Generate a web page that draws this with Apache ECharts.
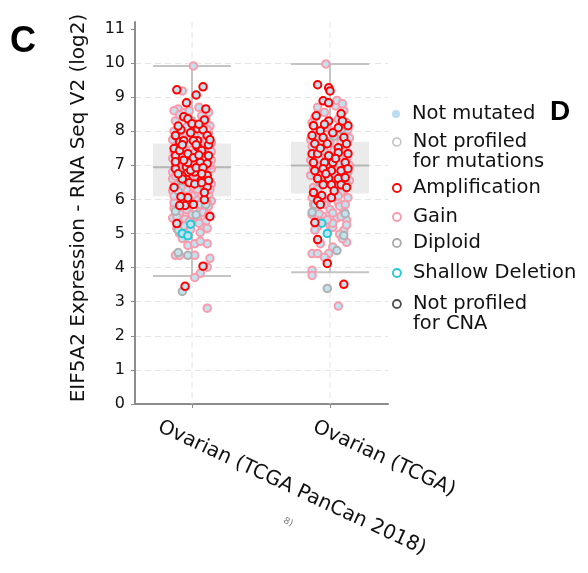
<!DOCTYPE html>
<html>
<head>
<meta charset="utf-8">
<script src="https://cdn.jsdelivr.net/npm/echarts@6/dist/echarts.min.js"></script>
<style>
html,body{margin:0;padding:0;background:#fff;}
#chart{width:588px;height:573px;}
</style>
</head>
<body>
<div id="chart"></div>
<script>
// ---------- data ----------
var categories = ['Ovarian (TCGA PanCan 2018)', 'Ovarian (TCGA)'];
var yTicks = [0,1,2,3,4,5,6,7,8,9,10,11];
// box stats per category: [low whisker, Q1, median, Q3, high whisker]
var boxPanCan = [3.75, 6.09, 6.94, 7.64, 9.91];
var boxTCGA = [3.86, 6.17, 6.99, 7.69, 9.97];
// points: [jitter offset from category centre, expression]
var ampPanCan = [[-0.11,9.21],[0.08,9.30],[0.03,9.06],[-0.04,8.83],[0.10,8.65],[-0.06,8.42],[-0.03,8.36],[0.09,8.33],[0.00,8.22],[-0.08,8.04],[0.04,8.07],[0.08,8.04],[0.11,7.87],[0.04,7.72],[0.04,7.54],[-0.13,7.49],[-0.09,7.69],[-0.06,7.72],[-0.12,7.28],[-0.09,7.43],[-0.03,7.34],[0.01,7.22],[0.06,7.08],[0.11,7.05],[-0.12,6.90],[-0.04,6.95],[-0.04,6.75],[0.02,6.80],[-0.07,6.68],[-0.01,6.85],[0.11,6.70],[0.11,6.37],[0.07,6.58],[-0.04,6.58],[-0.07,6.60],[-0.03,6.05],[0.09,5.99],[0.01,5.85],[-0.05,5.82],[-0.09,5.82],[0.13,5.50],[-0.11,5.29],[0.08,4.04],[-0.05,3.45],[-0.12,7.87],[-0.07,7.60],[0.01,7.72],[0.03,7.60],[0.07,7.43],[-0.12,7.10],[0.12,7.28],[-0.03,7.08],[0.03,6.93],[0.08,6.93],[-0.10,6.75],[0.07,6.75],[0.12,6.55],[-0.02,6.49],[0.02,6.45],[0.07,6.49],[-0.08,6.08],[0.12,7.60],[0.05,8.20],[-0.10,8.15],[0.13,7.75],[-0.01,7.95],[0.09,6.20],[-0.13,6.35],[0.05,7.30],[-0.06,7.15]];
var ampTCGA = [[-0.09,9.36],[-0.01,9.27],[0.00,9.18],[-0.05,8.89],[-0.01,8.83],[-0.10,8.45],[-0.12,8.16],[-0.01,8.30],[0.08,8.51],[0.13,8.16],[0.10,7.81],[0.06,8.10],[-0.07,8.01],[-0.05,7.81],[0.02,7.95],[-0.13,7.87],[-0.11,7.63],[-0.02,7.63],[0.06,7.51],[0.12,7.63],[0.13,7.34],[-0.13,7.34],[-0.09,7.34],[-0.01,7.28],[0.06,7.37],[-0.12,7.08],[-0.04,7.08],[0.02,7.08],[0.11,7.08],[-0.11,6.84],[-0.05,6.90],[0.01,6.84],[0.08,6.84],[0.13,6.90],[-0.09,6.61],[-0.01,6.61],[0.06,6.61],[0.11,6.64],[-0.05,6.43],[0.01,6.43],[0.08,6.43],[-0.06,6.11],[-0.09,5.96],[-0.07,5.85],[0.01,6.05],[-0.11,5.32],[-0.09,4.82],[-0.02,4.12],[0.10,3.51],[-0.12,6.20],[0.03,6.25],[0.12,6.35],[-0.03,6.75],[0.04,7.20],[-0.07,7.50],[0.09,8.30],[-0.04,8.20]];
var gainPanCan = [[0.01,9.91],[-0.07,9.18],[-0.10,8.65],[-0.13,8.60],[0.12,8.55],[0.10,8.35],[-0.12,8.30],[0.13,8.15],[-0.13,8.00],[-0.05,7.95],[0.06,7.90],[-0.14,7.75],[0.14,7.65],[-0.02,7.80],[0.08,7.60],[-0.11,7.55],[0.14,7.40],[-0.05,7.48],[0.02,7.38],[-0.14,7.20],[0.14,7.15],[-0.08,7.02],[0.05,6.98],[-0.14,6.80],[0.14,6.90],[-0.01,6.65],[0.10,6.62],[-0.12,6.50],[0.14,6.45],[-0.06,6.40],[0.04,6.30],[-0.14,6.25],[0.12,6.15],[-0.02,6.20],[0.07,6.10],[-0.10,6.00],[0.14,5.95],[0.03,5.98],[-0.13,5.75],[-0.04,5.70],[0.06,5.72],[0.12,5.80],[-0.09,5.58],[0.00,5.55],[0.08,5.62],[-0.14,5.45],[-0.05,5.42],[0.04,5.45],[0.10,5.35],[-0.11,5.15],[0.08,5.18],[0.06,5.03],[-0.09,5.00],[-0.03,4.65],[0.02,4.70],[0.11,4.70],[0.06,4.77],[-0.12,4.36],[-0.09,4.36],[0.02,4.36],[0.13,4.27],[0.11,4.01],[0.06,3.83],[0.02,3.71],[0.11,2.81],[-0.01,5.12],[-0.13,5.90],[0.12,7.95],[-0.06,8.55],[0.05,8.70],[-0.14,6.60],[0.13,6.30],[-0.06,6.85],[0.00,7.00],[0.09,8.10],[-0.09,7.90],[-0.11,6.15],[-0.07,4.85],[-0.02,8.60],[0.07,8.45],[-0.09,8.48],[0.11,8.05],[-0.04,8.12],[0.02,7.85],[-0.10,7.80],[0.10,7.75],[-0.03,7.62],[0.06,7.50],[-0.13,7.38],[0.09,7.35],[-0.05,7.25],[0.13,7.00],[-0.10,6.95],[0.03,6.70],[-0.12,6.68],[0.08,6.55],[-0.04,6.30],[0.10,6.45],[-0.08,6.35],[0.00,6.10],[-0.13,6.10],[0.11,5.90],[-0.07,5.92],[0.05,5.85],[-0.11,5.50],[0.12,5.55],[-0.02,5.35],[0.05,5.30],[-0.06,5.22],[0.11,5.15]];
var gainTCGA = [[-0.03,9.97],[0.04,8.74],[0.10,8.60],[-0.08,8.58],[0.06,8.35],[-0.13,8.25],[0.13,8.05],[-0.14,7.75],[0.14,7.80],[0.00,7.70],[-0.06,7.45],[0.09,7.25],[-0.14,7.15],[0.14,7.00],[-0.08,6.95],[0.04,6.95],[-0.14,6.70],[0.14,6.55],[-0.06,6.45],[0.10,6.25],[-0.13,6.05],[0.13,6.05],[-0.03,5.95],[0.06,5.90],[-0.10,5.75],[0.00,5.70],[0.10,5.65],[-0.13,5.55],[-0.05,5.50],[0.05,5.45],[0.12,5.40],[-0.09,5.20],[0.00,5.23],[0.02,5.18],[0.10,5.09],[0.07,4.98],[-0.13,4.41],[-0.09,4.41],[-0.01,4.41],[0.02,4.60],[0.12,4.74],[-0.07,4.70],[-0.13,3.92],[-0.13,3.77],[0.06,2.87],[-0.04,4.30],[-0.11,7.95],[0.11,7.45],[-0.02,8.10],[0.05,8.90],[-0.09,8.70],[0.13,6.80],[-0.12,6.35],[0.04,6.70],[-0.02,7.15],[0.08,6.20],[-0.07,5.35],[0.07,5.80],[-0.12,6.90],[0.11,7.60],[-0.04,5.85],[0.02,5.30],[0.09,4.85],[-0.04,8.55],[0.09,8.80],[-0.11,8.40],[0.11,8.20],[0.01,8.00],[-0.09,7.85],[0.08,7.70],[-0.04,7.40],[0.03,7.45],[-0.13,7.55],[0.12,7.20],[-0.08,7.20],[0.06,7.05],[-0.01,6.95],[-0.10,6.75],[0.09,6.70],[-0.03,6.55],[0.12,6.45],[-0.09,6.30],[0.03,6.40],[0.06,6.10],[-0.06,6.00],[0.11,5.85],[-0.12,5.85],[0.02,5.60],[-0.08,5.58],[0.08,5.50],[-0.02,5.40],[0.12,5.25],[-0.11,5.10]];
var diploidPanCan = [[-0.03,8.38],[0.00,8.30],[-0.10,6.25],[-0.08,6.55],[0.03,5.55],[-0.10,5.10],[-0.10,4.44],[-0.03,4.36],[-0.07,3.30],[0.05,7.25],[-0.12,7.00],[0.10,5.85],[-0.05,6.90],[0.08,6.40],[-0.12,5.65]];
var diploidTCGA = [[0.12,8.25],[0.08,8.05],[-0.13,5.62],[0.12,6.40],[0.11,5.58],[0.10,4.94],[0.05,4.50],[-0.02,3.39],[-0.11,5.85],[-0.07,6.50],[-0.10,7.60],[0.03,7.85],[0.12,6.75]];
var shallowPanCan = [[-0.01,5.27],[-0.07,5.00],[-0.03,4.93]];
var shallowTCGA = [[-0.02,5.00],[-0.06,5.30]];

// ---------- styling ----------
var FONT = 'DejaVu Sans';
var FILL = '#c2e2f0';
var C_AMP = '#ff0000', C_GAIN = '#fa9aab', C_DIP = '#b0b0b0', C_SHAL = '#22c9d6', C_NOCNA = '#222222';
var AXIS_C = '#8c8c8c';

function pts(arr, ci){ return arr.map(function(p){ return [ci + p[0], p[1]]; }); }

var chart = echarts.init(document.getElementById('chart'), null, {renderer:'canvas'});

function scatterSeries(name, a, b, color, z){
  return {
    type:'scatter', name:name, z:z,
    data: pts(a,0).concat(pts(b,1)),
    symbol:'circle', symbolSize:7.5,
    itemStyle:{color:FILL, borderColor:color, borderWidth:2, opacity:1},
    emphasis:{disabled:true}, silent:true
  };
}

var legendLabels = {
  'Not mutated':'Not mutated',
  'Not profiled for mutations':'\nNot profiled\nfor mutations',
  'Amplification':'Amplification',
  'Gain':'Gain',
  'Diploid':'Diploid',
  'Shallow Deletion':'Shallow Deletion',
  'Not profiled for CNA':'\nNot profiled\nfor CNA'
};
var legendDefs = [
  ['Not mutated', 104, {color:'#a9d6ee', borderWidth:0}],
  ['Not profiled for mutations', 112, {color:'#fff', borderColor:'#b5b5b5', borderWidth:1.6}],
  ['Amplification', 178, {color:'#fff', borderColor:C_AMP, borderWidth:1.8}],
  ['Gain', 207, {color:'#fff', borderColor:C_GAIN, borderWidth:1.8}],
  ['Diploid', 233, {color:'#fff', borderColor:'#aaaaaa', borderWidth:1.8}],
  ['Shallow Deletion', 263, {color:'#fff', borderColor:C_SHAL, borderWidth:1.8}],
  ['Not profiled for CNA', 274, {color:'#fff', borderColor:C_NOCNA, borderWidth:1.8}]
];
var legends = legendDefs.map(function(d){
  return {
    left:392, top:d[1], orient:'vertical', icon:'circle',
    itemWidth:8, itemHeight:8, selectedMode:false, padding:0,
    data:[{name:d[0], itemStyle:d[2]}],
    formatter:function(n){ return legendLabels[n]; },
    textStyle:{fontFamily:FONT, fontSize:19.5, color:'#111', lineHeight:20, padding:[0,0,0,7]}
  };
});

// label anchors: category index shifted left so rotated text starts left of the tick
var labelPos = [0 - 0.24, 1 - 0.116];

var option = {
  animation:false,
  backgroundColor:'#fff',
  grid:{left:135, right:200, top:22, bottom:169, containLabel:false, outerBoundsMode:'none'},
  legend:legends,
  xAxis:{
    type:'value', min:-0.413, max:1.42,
    axisLine:{show:true, onZero:false, lineStyle:{color:AXIS_C, width:2}},
    axisTick:{show:true, length:4, customValues:[0,1], lineStyle:{color:AXIS_C, width:1}},
    axisLabel:{customValues:labelPos, rotate:-25, margin:22, hideOverlap:false, fontFamily:FONT, fontSize:20, color:'#111',
      formatter:function(v){
        var best = 0, bd = 1e9;
        for (var i = 0; i < labelPos.length; i++) { var d = Math.abs(labelPos[i] - v); if (d < bd) { bd = d; best = i; } }
        return categories[best];
      }},
    splitLine:{show:false}
  },
  yAxis:{
    type:'value', min:0, max:11.2, interval:1,
    name:'EIF5A2 Expression - RNA Seq V2 (log2)', nameLocation:'middle', nameGap:46,
    nameTextStyle:{fontFamily:FONT, fontSize:20, color:'#111', padding:[0,0,0,10]},
    axisLine:{show:true, onZero:false, lineStyle:{color:AXIS_C, width:2}},
    axisTick:{show:true, length:4, customValues:yTicks, lineStyle:{color:AXIS_C, width:1}},
    axisLabel:{customValues:yTicks, margin:10, fontFamily:FONT, fontSize:16, color:'#111'},
    splitLine:{show:true, showMaxLine:false, lineStyle:{type:[6,4], color:'#e4e4e4', width:1}}
  },
  graphic:[
    {type:'text', left:10, top:24, style:{text:'C', font:'bold 36px "Liberation Sans"', fill:'#000'}},
    {type:'text', left:550, top:98, style:{text:'D', font:'bold 28px "Liberation Sans"', fill:'#000'}},
    {type:'text', x:286, y:516, rotation:-0.45, style:{text:'8)', font:'9px "DejaVu Sans"', fill:'#777'}}
  ],
  series:[
    {
      type:'custom', name:'box', z:1, silent:true,
      data:[[0].concat(boxPanCan), [1].concat(boxTCGA)],
      encode:{x:0, y:[1,2,3,4,5]},
      renderItem:function(params, api){
        var ci = api.value(0), lo = api.value(1), q1 = api.value(2), md = api.value(3), q3 = api.value(4), hi = api.value(5);
        var hw = 0.283;
        var cs = params.coordSys;
        var c = api.coord([ci, md]);
        var pl = api.coord([ci - hw, q3]), pr = api.coord([ci + hw, q1]);
        var ph = api.coord([ci, hi]), plo = api.coord([ci, lo]);
        var xl = pl[0], xr = pr[0];
        var ws = {stroke:'#c4c4c4', lineWidth:2};
        return {type:'group', children:[
          {type:'line', shape:{x1:c[0], y1:cs.y, x2:c[0], y2:cs.y + cs.height}, style:{stroke:'#e4e4e4', lineWidth:1, lineDash:[6,4]}},
          {type:'rect', shape:{x:xl, y:pl[1], width:xr - xl, height:pr[1] - pl[1]}, style:{fill:'#ebebeb'}},
          {type:'line', shape:{x1:c[0], y1:ph[1], x2:c[0], y2:pl[1]}, style:ws},
          {type:'line', shape:{x1:c[0], y1:pr[1], x2:c[0], y2:plo[1]}, style:ws},
          {type:'line', shape:{x1:xl, y1:ph[1], x2:xr, y2:ph[1]}, style:ws},
          {type:'line', shape:{x1:xl, y1:plo[1], x2:xr, y2:plo[1]}, style:ws},
          {type:'line', shape:{x1:xl, y1:c[1], x2:xr, y2:c[1]}, style:{stroke:'#b5b5b5', lineWidth:2}}
        ]};
      }
    },
    scatterSeries('Gain', gainPanCan, gainTCGA, C_GAIN, 2),
    scatterSeries('Diploid', diploidPanCan, diploidTCGA, C_DIP, 3),
    scatterSeries('Shallow Deletion', shallowPanCan, shallowTCGA, C_SHAL, 4),
    scatterSeries('Amplification', ampPanCan, ampTCGA, C_AMP, 5),
    {type:'scatter', name:'Not mutated', data:[], itemStyle:{color:'#a9d6ee'}},
    {type:'scatter', name:'Not profiled for mutations', data:[], itemStyle:{color:'#fff', borderColor:'#b5b5b5'}},
    {type:'scatter', name:'Not profiled for CNA', data:[], itemStyle:{color:'#fff', borderColor:C_NOCNA}}
  ]
};
chart.setOption(option);
</script>
</body>
</html>
